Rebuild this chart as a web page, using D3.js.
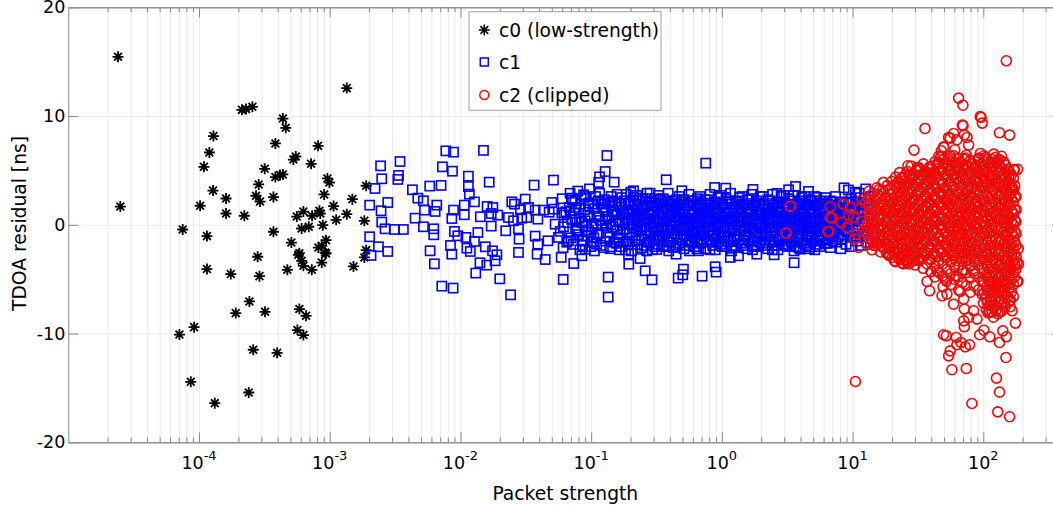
<!DOCTYPE html>
<html>
<head>
<meta charset="utf-8">
<script src="https://cdn.jsdelivr.net/npm/d3@7"></script>
<style>
body { margin: 0; background: #fff; }
svg { display: block; font-family: "DejaVu Sans", sans-serif; }
</style>
</head>
<body>
<div id="chart"></div>
<script>
// tick values
const xTicks = [1e-4, 1e-3, 1e-2, 1e-1, 1, 10, 100];
const xTickExp = ["-4", "-3", "-2", "-1", "0", "1", "2"];
const yTicks = [-20, -10, 0, 10, 20];
const legendLabels = ["c0 (low-strength)", "c1", "c2 (clipped)"];

// c0 : [packet strength, TDOA residual ns]
const c0 = [
  [2.4e-5,15.45],[2.5e-5,1.68],[7.5e-5,-0.43],[1.15e-4,-1.04],[1.02e-4,1.75],[1.09e-4,5.33],[1.2e-4,6.65],[1.29e-4,8.16],
  [1.28e-4,3.15],[1.61e-4,2.42],[1.61e-4,1.04],[2.22e-4,0.83],[2.13e-4,10.57],[2.29e-4,10.64],[2.56e-4,10.85],[4.38e-4,9.77],
  [4.61e-4,8.92],[3.84e-4,7.48],[8.15e-4,7.26],[3.18e-4,5.15],[2.86e-4,3.71],[2.73e-4,2.67],[2.93e-4,2.14],[3.71e-4,2.55],
  [3.84e-4,4.39],[4.17e-4,4.57],[4.38e-4,4.63],[5.27e-4,6.0],[5.5e-4,6.28],[7.2e-4,5.61],[3.71e-4,-0.64],[5.09e-4,-1.63],
  [5.86e-4,-2.61],[2.81e-4,-2.94],[5.6e-4,0.76],[6.29e-4,1.22],[6.1e-4,-0.34],[6.91e-4,-0.18],[7.33e-4,0.83],[8.34e-4,1.29],
  [8.47e-4,1.04],[8.85e-4,-0.03],[9.06e-4,2.79],[9.6e-4,4.26],[9.94e-4,3.89],[1.07e-3,1.72],[1.12e-3,0.46],[1.35e-3,0.98],
  [1.35e-3,12.57],[8.19e-4,-2.09],[8.69e-4,-1.93],[9.37e-4,-1.41],[9.22e-4,-2.55],[5.75e-4,-2.76],[6.1e-4,-3.31],[6.29e-4,-3.77],
  [8.69e-4,-3.47],[9.37e-4,-2.64],[1.15e-4,-4.07],[1.75e-4,-4.53],[2.9e-4,-4.72],[4.74e-4,-4.14],[7.29e-4,-4.14],[2.43e-4,-7.05],
  [1.91e-4,-8.12],[3.2e-4,-8.0],[5.86e-4,-7.75],[6.59e-4,-8.37],[5.66e-4,-9.68],[6.29e-4,-10.14],[7.08e-5,-10.09],[9.17e-5,-9.41],
  [2.6e-4,-11.49],[3.96e-4,-11.77],[8.65e-5,-14.44],[2.4e-4,-15.42],[1.32e-4,-16.4],[1.9e-3,3.59],[1.49e-3,2.36],[1.84e-3,0.37],
  [1.9e-3,-2.33],[1.52e-3,-3.83],[1.84e-3,-3.0]
];

const c1 = [
  // sparse part, 2e-3 .. 0.1
  [7.73e-3,6.80],[8.85e-3,6.68],[1.5e-2,6.84],[2.45e-3,5.42],[3.45e-3,5.82],[7.28e-3,5.33],[8.69e-3,4.93],[2.5e-3,4.23],
  [3.36e-3,4.54],[3.32e-3,4.17],[1.15e-2,4.47],[1.66e-2,3.92],[3.66e-2,3.65],[5.15e-2,4.11],[2.22e-3,3.34],[4.29e-3,3.22],
  [5.82e-3,3.56],[7.11e-3,3.62],[1.15e-2,3.52],[1.17e-2,2.82],[2.02e-3,1.81],[2.78e-3,2.05],[2.47e-3,1.29],[4.72e-3,2.45],
  [5.21e-3,2.21],[5.31e-3,1.35],[6.59e-3,1.81],[6.4e-3,1.23],[8.85e-3,1.35],[8.59e-3,0.58],[1.07e-2,1.81],[1.28e-2,2.11],
  [1.07e-2,0.92],[1.6e-2,1.69],[1.77e-2,1.59],[1.72e-2,1.04],[1.42e-2,0.74],[1.93e-2,0.89],[2.47e-2,2.11],[2.59e-2,1.9],
  [3.13e-2,2.36],[3.32e-2,1.59],[2.88e-2,1.38],[3.73e-2,1.35],[2.33e-2,0.67],[2.55e-2,0.37],[2.94e-2,0.61],[3.22e-2,0.67],
  [3.91e-2,0.52],[4.32e-2,1.35],[5.0e-2,2.05],[5.18e-2,1.44],[4.77e-2,1.16],[5.97e-2,1.10],[7.11e-2,2.45],[8.75e-2,2.76],
  [9.55e-2,1.72],[6.9e-2,1.29],[7.55e-2,0.49],[9.0e-2,0.37],[5.3e-2,0.06],[6.14e-2,-0.18],[7.77e-2,-0.49],[9.55e-2,-0.49],
  [2.5e-3,0.25],[2.65e-3,-0.37],[3.13e-3,-0.43],[3.66e-3,-0.43],[4.5e-3,0.61],[5.21e-3,-0.18],[6.25e-3,-0.37],[6.25e-3,-0.92],
  [9.0e-3,-0.61],[9.55e-3,-1.01],[1.1e-2,-1.16],[1.36e-2,-0.71],[1.72e-2,-0.12],[2.22e-2,-0.55],[2.78e-2,-0.37],[2.81e-2,-1.32],
  [3.73e-2,-1.04],[3.91e-2,-1.78],[4.67e-2,-1.47],[5.62e-2,-1.16],[6.71e-2,-1.47],[8.49e-2,-1.47],[2.02e-3,-1.1],[2.36e-3,-2.02],
  [2.78e-3,-2.45],[2.07e-3,-2.82],[5.86e-3,-2.39],[8.39e-3,-1.9],[8.59e-3,-2.70],[1.12e-2,-2.15],[1.28e-2,-1.53],[1.19e-2,-2.45],
  [1.55e-2,-2.02],[1.76e-2,-2.39],[1.9e-2,-2.76],[1.84e-2,-3.31],[1.59e-2,-3.71],[1.41e-2,-3.49],[6.32e-3,-3.59],[1.31e-2,-4.44],
  [2.78e-2,-2.54],[3.86e-2,-2.70],[4.45e-2,-3.19],[5.9e-2,-3.0],[7.36e-2,-3.56],[8.49e-2,-2.85],[9.0e-2,-2.24],[6.11e-2,-5.03],
  [2.0e-2,-4.97],[2.42e-2,-6.44],[7.2e-3,-5.64],[8.79e-3,-5.82],
  // outliers around the dense band
  [0.132,6.37],[0.753,5.67],[0.128,4.90],[0.116,4.41],[0.114,3.89],[0.15,3.92],[0.375,4.14],[3.66,3.52],
  [4.6,3.07],[3.24,3.22],[0.88,3.43],[1.07,3.37],[1.73,3.25],[5.33,2.51],[0.282,2.91],[0.211,3.13],
  [0.494,3.13],[2.64,2.88],[0.194,-3.62],[0.237,-3.1],[0.259,-4.23],[0.292,-5.06],[0.135,-4.81],[0.135,-6.65],
  [0.508,-4.08],[0.463,-4.90],[0.502,-4.6],[0.706,-4.72],[0.889,-3.86],[0.904,-4.35],[3.57,-3.49],[0.447,-2.70],
  [1.16,-3.0],[1.85,-2.70],[2.51,-2.76],[0.193,-2.70],[0.11,-1.78],[0.14,-2.02],[0.318,-2.27],[0.662,-2.39],
  [1.34,-2.85],[3.97,-2.24],[4.74,-2.02],[8.6,3.4],[9.3,3.2],[10.5,3.0],[12.6,3.3],[11.2,2.9],
  // dense band
  [0.060,2.4],[0.062,0.9],[0.058,-0.6],[0.061,-2.1],[0.068,1.6],[0.066,0.2],[0.070,-1.2],[0.069,2.9],
  [0.074,1.1],[0.076,-0.3],[0.073,-1.8],[0.075,2.2],[0.081,0.6],[0.083,1.9],[0.080,-0.9],[0.082,-2.3],[0.079,3.1],
  [0.089,1.4],[0.091,-0.1],[0.087,-1.5],[0.090,2.6],[0.098,0.8],[0.100,-0.7],[0.096,2.0],[0.099,-2.0],[0.097,3.3],
  [0.107,1.5],[0.109,0.1],[0.105,-1.2],[0.108,2.6],[0.106,-2.4],[0.117,0.4],[0.119,1.9],[0.115,-0.8],[0.118,-1.9],[0.116,2.9],
  [0.129,1.2],[0.131,-0.3],[0.127,2.3],[0.130,-1.5],[0.128,0.5],[0.141,0.0],[0.143,1.7],[0.139,-1.1],[0.142,2.6],[0.140,-2.2],[0.144,0.9],
  [0.155,1.0],[0.157,-0.5],[0.153,2.1],[0.156,-1.7],[0.154,0.3],[0.158,2.8],[0.170,1.6],[0.172,0.2],[0.168,-0.9],[0.171,2.5],[0.169,-2.0],[0.173,0.9],
  [0.186,0.6],[0.188,-0.4],[0.184,1.9],[0.187,-1.5],[0.185,2.8],[0.189,1.2],[0.183,-2.3],
  [0.204,1.3],[0.206,-0.1],[0.202,2.2],[0.205,-1.2],[0.203,-2.4],[0.207,0.5],[0.201,3.0],
  [0.224,0.8],[0.226,1.9],[0.222,-0.6],[0.225,-1.8],[0.223,2.7],[0.227,0.1],[0.221,1.4],
  [0.245,1.5],[0.247,0.3],[0.243,-1.0],[0.246,2.4],[0.244,-2.1],[0.248,0.9],[0.242,-0.4],
  [0.269,0.5],[0.271,1.8],[0.267,-0.5],[0.270,-1.6],[0.268,2.9],[0.272,1.1],[0.266,-2.4],
  [0.295,1.2],[0.297,-0.2],[0.293,2.2],[0.296,-1.3],[0.294,-2.3],[0.298,0.6],[0.292,1.7],
  [0.324,0.9],[0.326,2.0],[0.322,-0.6],[0.325,-1.8],[0.323,0.2],[0.327,2.7],[0.321,-1.2],
  [0.355,1.6],[0.357,0.4],[0.353,-1.0],[0.356,2.4],[0.354,-2.0],[0.358,1.0],[0.352,-0.3],
  [0.389,0.7],[0.391,1.9],[0.387,-0.4],[0.390,-1.5],[0.388,2.9],[0.392,-2.4],[0.386,1.3],
  [0.427,1.3],[0.429,0.0],[0.425,2.2],[0.428,-1.1],[0.426,-2.1],[0.430,0.7],[0.424,-0.5],
  [0.468,0.9],[0.470,1.9],[0.466,-0.5],[0.469,-1.7],[0.467,0.3],[0.471,2.6],[0.465,1.4],
  [0.513,1.5],[0.515,0.2],[0.511,-0.9],[0.514,2.3],[0.512,-2.2],[0.516,1.0],[0.510,-0.3],
  [0.562,0.6],[0.564,1.8],[0.560,-0.4],[0.563,-1.5],[0.561,2.8],[0.565,-2.4],[0.559,1.2],
  [0.617,1.2],[0.619,0.0],[0.615,2.2],[0.618,-1.2],[0.616,-2.0],[0.620,0.6],[0.614,-0.6],
  [0.676,0.8],[0.678,1.9],[0.674,-0.6],[0.677,-1.7],[0.675,0.2],[0.679,2.6],[0.673,1.4],
  [0.741,1.5],[0.743,0.4],[0.739,-1.0],[0.742,2.3],[0.740,-2.2],[0.744,1.0],[0.738,-0.3],
  [0.813,0.5],[0.815,1.8],[0.811,-0.5],[0.814,-1.6],[0.812,2.8],[0.816,1.2],[0.810,-2.3],
  [0.891,1.1],[0.893,-0.1],[0.889,2.1],[0.892,-1.3],[0.890,-2.3],[0.894,0.6],[0.888,1.6],
  [0.977,0.8],[0.979,2.0],[0.975,-0.6],[0.978,-1.8],[0.976,0.2],[0.980,2.7],[0.974,-1.2],
  [1.07,1.6],[1.08,0.4],[1.06,-1.0],[1.075,2.4],[1.065,-2.0],[1.085,1.0],[1.055,-0.3],
  [1.17,0.6],[1.18,1.9],[1.16,-0.4],[1.175,-1.5],[1.165,2.9],[1.185,-2.4],[1.155,1.3],
  [1.29,1.3],[1.30,0.0],[1.28,2.2],[1.295,-1.1],[1.285,-2.1],[1.305,0.7],[1.275,-0.5],
  [1.41,0.9],[1.42,1.9],[1.40,-0.5],[1.415,-1.7],[1.405,0.3],[1.425,2.6],[1.395,1.4],
  [1.55,1.5],[1.56,0.2],[1.54,-0.9],[1.555,2.3],[1.545,-2.2],[1.565,1.0],[1.535,-0.3],
  [1.70,0.6],[1.71,1.8],[1.69,-0.4],[1.705,-1.5],[1.695,2.8],[1.715,-2.3],[1.685,1.2],
  [1.86,1.2],[1.87,0.0],[1.85,2.2],[1.865,-1.2],[1.855,-2.0],[1.875,0.6],[1.845,-0.6],
  [2.04,0.8],[2.05,1.9],[2.03,-0.6],[2.045,-1.7],[2.035,0.2],[2.055,2.6],[2.025,1.4],
  [2.24,1.5],[2.25,0.4],[2.23,-1.0],[2.245,2.3],[2.235,-2.2],[2.255,1.0],[2.225,-0.3],
  [2.45,0.5],[2.46,1.8],[2.44,-0.5],[2.455,-1.6],[2.445,2.8],[2.465,1.2],[2.435,-2.3],
  [2.69,1.1],[2.70,-0.1],[2.68,2.1],[2.695,-1.3],[2.685,-2.3],[2.705,0.6],[2.675,1.6],
  [2.95,0.8],[2.96,2.0],[2.94,-0.6],[2.955,-1.8],[2.945,0.2],[2.965,2.7],[2.935,-1.2],
  [3.24,1.6],[3.25,0.4],[3.23,-1.0],[3.245,2.4],[3.235,-2.0],[3.255,1.0],[3.225,-0.3],
  [3.55,0.6],[3.56,1.9],[3.54,-0.4],[3.555,-1.5],[3.545,2.7],[3.565,-2.4],[3.535,1.3],
  [3.89,1.3],[3.90,0.0],[3.88,2.2],[3.895,-1.1],[3.885,-2.1],[3.905,0.7],[3.875,-0.5],
  [4.27,0.9],[4.28,1.9],[4.26,-0.5],[4.275,-1.7],[4.265,0.3],[4.285,2.6],[4.255,1.4],
  [4.68,1.5],[4.69,0.2],[4.67,-0.9],[4.685,2.3],[4.675,-2.2],[4.695,1.0],[4.665,-0.3],
  [5.13,0.6],[5.14,1.8],[5.12,-0.4],[5.135,-1.5],[5.125,2.6],[5.145,-2.3],[5.115,1.2],
  [5.62,1.2],[5.63,0.0],[5.61,2.2],[5.625,-1.2],[5.615,-2.0],[5.635,0.6],[5.605,-0.6],
  [6.17,0.8],[6.18,1.9],[6.16,-0.6],[6.175,-1.7],[6.165,0.2],[6.185,2.5],[6.155,1.4],
  [6.76,1.5],[6.77,0.4],[6.75,-1.0],[6.765,2.2],[6.755,-2.1],[6.745,-0.3],
  [7.41,0.5],[7.42,1.8],[7.40,-0.5],[7.415,-1.6],[7.405,2.6],[7.395,1.1],
  [8.13,1.1],[8.14,-0.1],[8.12,2.1],[8.135,-1.3],[8.125,-2.2],[8.115,0.5],
  [8.91,0.8],[8.92,2.0],[8.90,-0.6],[8.915,-1.8],[8.905,0.2],[8.895,1.4],
  [9.77,1.6],[9.78,0.4],[9.76,-1.0],[9.775,2.4],[9.765,-2.0],
  [10.7,0.6],[10.8,1.9],[10.6,-0.4],[10.75,-1.5],[10.65,2.5],
  [11.7,1.3],[11.8,0.0],[11.6,2.0],[11.75,-1.1],[11.65,-1.9],
  [12.9,0.9],[13.0,1.9],[12.8,-0.5],[12.95,-1.6],[14.0,1.4],[14.3,-0.8],[13.8,2.6],
  // dense band, in-between layer
  [0.064,1.2],[0.065,-1.6],[0.071,0.5],[0.072,2.3],[0.078,-0.6],[0.077,1.6],[0.085,0.2],[0.086,-1.9],[0.084,2.4],
  [0.094,0.9],[0.093,-1.0],[0.103,1.9],[0.102,-0.2],[0.104,-1.6],[0.112,0.8],[0.113,2.2],[0.111,-0.9],
  [0.123,1.6],[0.122,-0.1],[0.124,-2.1],[0.135,0.7],[0.136,2.0],[0.134,-0.7],[0.148,1.3],[0.147,-0.2],[0.149,-1.6],[0.146,2.2],
  [0.162,0.4],[0.163,1.9],[0.161,-1.2],[0.164,-2.3],[0.178,1.1],[0.177,-0.4],[0.179,2.2],[0.176,-1.6],
  [0.195,2.0],[0.196,1.0],[0.194,0.1],[0.197,-0.8],[0.193,-1.8],[0.214,1.8],[0.215,0.7],[0.213,-0.3],[0.216,-1.5],[0.212,2.5],
  [0.234,2.2],[0.235,1.1],[0.233,0.4],[0.236,-0.5],[0.232,-1.4],[0.257,1.6],[0.258,0.6],[0.256,-0.2],[0.259,-1.0],[0.255,-1.9],[0.260,2.4],
  [0.282,2.0],[0.283,1.0],[0.281,0.1],[0.284,-0.8],[0.280,-1.6],[0.309,1.8],[0.310,0.6],[0.308,-0.2],[0.311,-1.1],[0.307,-2.0],[0.312,2.4],
  [0.339,2.3],[0.340,1.3],[0.338,0.4],[0.341,-0.5],[0.337,-1.4],[0.372,1.5],[0.373,0.3],[0.371,-0.8],[0.374,-1.9],[0.370,2.2],
  [0.408,1.9],[0.409,0.9],[0.407,0.1],[0.410,-0.8],[0.406,-1.6],[0.447,1.7],[0.448,0.7],[0.446,-0.2],[0.449,-1.1],[0.445,-2.0],[0.450,2.3],
  [0.490,2.1],[0.491,1.2],[0.489,0.4],[0.492,-0.5],[0.488,-1.4],[0.537,1.8],[0.538,0.6],[0.536,-0.1],[0.539,-1.0],[0.535,-1.9],
  [0.589,2.2],[0.590,1.0],[0.588,0.1],[0.591,-0.8],[0.587,-1.6],[0.646,1.7],[0.647,0.5],[0.645,-0.3],[0.648,-1.3],[0.644,-2.2],[0.649,2.4],
  [0.708,2.0],[0.709,1.1],[0.707,0.2],[0.710,-0.7],[0.706,-1.5],[0.776,2.3],[0.777,1.3],[0.775,0.4],[0.778,-0.5],[0.774,-1.4],
  [0.851,1.6],[0.852,0.5],[0.850,-0.2],[0.853,-1.0],[0.849,-1.9],[0.933,2.0],[0.934,1.0],[0.932,0.1],[0.935,-0.8],[0.931,-1.6],[0.936,2.5],
  [1.02,1.8],[1.025,0.7],[1.015,-0.2],[1.03,-1.1],[1.01,-2.0],[1.12,2.2],[1.125,1.1],[1.115,0.3],[1.13,-0.6],[1.11,-1.5],
  [1.23,1.6],[1.235,0.6],[1.225,-0.2],[1.24,-1.1],[1.22,-1.9],[1.35,2.1],[1.355,1.2],[1.345,0.4],[1.36,-0.5],[1.34,-1.4],[1.365,2.5],
  [1.48,1.8],[1.485,0.7],[1.475,-0.2],[1.49,-1.0],[1.47,-1.9],[1.62,2.3],[1.625,1.2],[1.615,0.3],[1.63,-0.6],[1.61,-1.5],
  [1.78,1.7],[1.785,0.6],[1.775,-0.3],[1.79,-1.1],[1.77,-2.0],[1.95,2.0],[1.955,1.0],[1.945,0.1],[1.96,-0.8],[1.94,-1.6],[1.965,2.6],
  [2.14,1.8],[2.145,0.8],[2.135,-0.2],[2.15,-1.0],[2.13,-1.9],[2.34,2.2],[2.345,1.1],[2.335,0.2],[2.35,-0.7],[2.33,-1.5],
  [2.57,1.6],[2.575,0.5],[2.565,-0.2],[2.58,-1.1],[2.56,-1.9],[2.82,2.1],[2.825,1.2],[2.815,0.4],[2.83,-0.5],[2.81,-1.4],[2.835,2.6],
  [3.09,1.9],[3.095,0.8],[3.085,-0.1],[3.10,-1.0],[3.08,-1.9],[3.39,2.2],[3.395,1.1],[3.385,0.2],[3.40,-0.7],[3.38,-1.6],
  [3.72,1.7],[3.725,0.6],[3.715,-0.2],[3.73,-1.1],[3.71,-2.0],[4.07,2.0],[4.075,1.0],[4.065,0.1],[4.08,-0.8],[4.06,-1.6],[4.085,2.5],
  [4.47,1.8],[4.475,0.7],[4.465,-0.2],[4.48,-1.1],[4.46,-1.9],[4.90,2.2],[4.905,1.2],[4.895,0.3],[4.91,-0.6],[4.89,-1.5],
  [5.37,1.6],[5.375,0.5],[5.365,-0.3],[5.38,-1.0],[5.36,-1.8],[5.89,2.0],[5.895,1.1],[5.885,0.3],[5.90,-0.6],[5.88,-1.4],
  [6.46,1.9],[6.465,0.8],[6.455,-0.1],[6.47,-0.9],[6.45,-1.7],[7.08,2.1],[7.085,1.1],[7.075,0.2],[7.09,-0.7],[7.07,-1.5],
  [7.76,1.6],[7.765,0.6],[7.755,-0.3],[7.77,-1.1],[8.51,1.9],[8.515,0.9],[8.505,0.0],[8.52,-0.9],
  [9.33,2.1],[9.335,1.1],[9.325,0.2],[9.34,-0.7],[10.2,1.4],[10.25,0.3],[10.15,-0.8],[11.2,1.8],[11.25,0.6],[11.15,-0.5],
  [12.3,1.4],[12.35,0.3],[12.25,-1.0]
];

const c2 = [
  // scattered points
  [150,15.08],[64.7,11.65],[69.8,11.0],[94.8,9.96],[98.2,9.35],[35.8,8.86],[133,8.46],[159,8.25],
  [69.1,9.17],[59.3,8.4],[55.8,7.97],[62.8,7.82],[71.6,8.28],[75,8.03],[77.2,7.33],[49.7,7.17],
  [47.7,6.81],[29.5,6.87],[59.3,6.35],[72.8,6.13],[94.8,6.56],[101,6.35],[92,6.13],[45.5,5.73],
  [52.7,5.43],[26.5,5.43],[32,5.27],[62.8,5.12],[126,5.73],[133,5.33],[173,5.09],[157,4.51],
  [92,4.78],[101,5.27],[38.2,4.72],[41.7,4.81],[113,4.35],[159,3.44],[143,3.74],[16,3.25],
  [24.5,4.35],[27.6,4.66],[49.8,7.11],[54.3,8.03],[70,9.11],[96.2,9.87],[127,5.73],[171,5.03],
  [166,3.44],[39.4,4.72],[45.6,5.58],[31.6,5.27],[20.6,2.06],
  [10.5,-14.41],[6.55,-0.61],[6.75,0.67],[6.75,1.66],[81.8,-16.43],[133,-15.39],[126,-14.10],[129,-17.2],
  [159,-17.65],[57.5,-13.33],[74.1,-13.21],[149,-12.2],[54.3,-12.05],[55.8,-11.59],[62.8,-11.03],[72.8,-11.22],
  [78.5,-11.03],[67.5,-10.82],[49.7,-10.11],[52.1,-10.21],[62.1,-10.36],[93.8,-10.11],[101,-9.69],[112,-10.3],
  [133,-10.82],[150,-10.3],[141,-9.75],[71.6,-9.38],[70.8,-8.83],[77.2,-8.52],[89.5,-8.67],[84.4,-7.91],
  [71.6,-7.75],[112,-8.06],[139,-7.91],[166,-7.91],[176,-9.04],[161,-7.54],[37.1,-5.21],[38.8,-6.07],
  [48.3,-6.53],[52.7,-6.37],[59.3,-7.3],[66.7,-6.13],[70.8,-6.84],[113,-6.99],[124,-6.22],[141,-6.07],
  [161,-6.93],[181,-5.21],[113,-5.3],[129,-5.39],[143,-5.15],[19.2,-2.7],[26.1,-3.46],[27.6,-2.08],
  [33,-3.16],[44.2,-4.23],[51.2,-5.0],[62.1,-4.69],[68.7,-4.23],[84.4,-4.23],[181,-3.46],[161,-3.92],
  [11.1,-2.08],[15.3,-1.62],[18.9,-2.08],
  [3.33,1.69],[3.09,-0.76],[6.95,0.62],[6.49,-0.61],[8.43,1.9],[8.15,0.22],[9.06,-0.24],[11.8,2.3],
  [9.6,1.6],[10.2,0.68],[10.8,-0.86],[12.9,-0.24],[14.1,-1.47],[15.4,-1.78],[13.7,0.98],[9.3,0.9],
  [10.4,-1.3],[11.4,1.5],[12.2,-0.6],[11.9,0.3],[12.5,2.0],
  // dense core
  [13.2,2.4],[13.3,1.1],[13.1,0.2],[13.25,-0.9],[13.15,-1.8],[13.4,3.1],
  [14.1,1.7],[14.2,0.6],[14.0,-0.4],[14.15,-1.4],[14.05,-2.3],[14.3,2.9],
  [15.1,2.2],[15.2,1.2],[15.0,0.1],[15.15,-0.8],[15.05,-1.9],[15.3,3.4],
  [16.2,2.6],[16.3,1.5],[16.1,0.5],[16.25,-0.5],[16.15,-1.5],[16.4,-2.5],
  [17.4,3.0],[17.5,1.9],[17.3,0.9],[17.45,-0.2],[17.35,-1.2],[17.6,-2.2],[17.2,3.9],
  [18.6,2.3],[18.7,1.3],[18.5,0.3],[18.65,-0.7],[18.55,-1.8],[18.8,-2.8],[18.4,3.6],
  [20.0,4.0],[20.2,2.9],[19.8,1.9],[20.1,0.9],[19.9,-0.1],[20.3,-1.1],[19.7,-2.1],[20.15,-3.0],
  [21.4,4.4],[21.6,3.4],[21.2,2.4],[21.5,1.4],[21.3,0.4],[21.7,-0.6],[21.1,-1.6],[21.55,-2.6],[21.35,-3.4],
  [22.9,3.8],[23.1,2.7],[22.7,1.7],[23.0,0.7],[22.8,-0.3],[23.2,-1.3],[22.6,-2.3],[23.05,-3.2],[22.85,4.8],
  [24.5,4.3],[24.7,3.2],[24.3,2.2],[24.6,1.2],[24.4,0.2],[24.8,-0.8],[24.2,-1.8],[24.65,-2.9],[24.45,-3.6],
  [26.3,4.9],[26.5,3.7],[26.1,2.6],[26.4,1.6],[26.2,0.6],[26.6,-0.5],[26.0,-1.5],[26.45,-2.5],[26.25,-3.4],
  [28.2,4.1],[28.4,3.0],[28.0,2.0],[28.3,1.0],[28.1,0.0],[28.5,-1.0],[27.9,-2.0],[28.35,-3.0],[28.15,5.4],
  [30.2,4.6],[30.4,3.5],[30.0,2.4],[30.3,1.4],[30.1,0.4],[30.5,-0.6],[29.9,-1.6],[30.35,-2.7],[30.15,-3.7],
  [32.4,5.1],[32.6,4.0],[32.2,2.9],[32.5,1.8],[32.3,0.8],[32.7,-0.2],[32.1,-1.2],[32.55,-2.2],[32.35,-3.3],
  [34.7,4.4],[34.9,3.3],[34.5,2.2],[34.8,1.2],[34.6,0.2],[35.0,-0.8],[34.4,-1.9],[34.85,-3.0],[34.65,-4.0],[34.75,5.6],
  [37.2,4.8],[37.4,3.7],[37.0,2.6],[37.3,1.6],[37.1,0.6],[37.5,-0.4],[36.9,-1.5],[37.35,-2.6],[37.15,-3.6],
  [39.8,5.3],[40.0,4.2],[39.6,3.1],[39.9,2.0],[39.7,1.0],[40.1,0.0],[39.5,-1.0],[39.95,-2.1],[39.75,-3.2],[39.85,-4.3],
  [42.7,5.8],[42.9,4.7],[42.5,3.6],[42.8,2.5],[42.6,1.5],[43.0,0.5],[42.4,-0.5],[42.85,-1.6],[42.65,-2.7],[42.75,-3.8],[42.55,-4.8],
  [45.7,5.2],[45.9,4.1],[45.5,3.0],[45.8,2.0],[45.6,1.0],[46.0,0.0],[45.4,-1.1],[45.85,-2.2],[45.65,-3.3],[45.75,-4.4],[45.55,6.3],
  [49.0,6.0],[49.2,4.9],[48.8,3.8],[49.1,2.8],[48.9,1.8],[49.3,0.7],[48.7,-0.3],[49.15,-1.4],[48.95,-2.5],[49.05,-3.6],[48.85,-4.7],[49.25,-5.7],
  [52.5,5.5],[52.7,4.4],[52.3,3.3],[52.6,2.3],[52.4,1.2],[52.8,0.2],[52.2,-0.8],[52.65,-1.9],[52.45,-3.0],[52.55,-4.1],[52.35,-5.2],
  [56.2,6.3],[56.4,5.1],[56.0,4.0],[56.3,2.9],[56.1,1.9],[56.5,0.9],[55.9,-0.1],[56.35,-1.2],[56.15,-2.3],[56.25,-3.4],[56.05,-4.5],[56.45,-5.5],
  [60.3,5.7],[60.5,4.6],[60.1,3.5],[60.4,2.4],[60.2,1.4],[60.6,0.4],[60.0,-0.6],[60.45,-1.7],[60.25,-2.8],[60.35,-3.9],[60.15,-5.0],[60.55,6.9],
  [64.6,6.1],[64.8,5.0],[64.4,3.9],[64.7,2.8],[64.5,1.7],[64.9,0.7],[64.3,-0.4],[64.75,-1.5],[64.55,-2.6],[64.65,-3.7],[64.45,-4.8],[64.85,-6.0],
  [69.2,5.4],[69.4,4.3],[69.0,3.2],[69.3,2.2],[69.1,1.1],[69.5,0.1],[68.9,-0.9],[69.35,-2.0],[69.15,-3.1],[69.25,-4.2],[69.05,-5.3],
  [74.1,6.4],[74.3,5.3],[73.9,4.2],[74.2,3.1],[74.0,2.0],[74.4,1.0],[73.8,0.0],[74.25,-1.1],[74.05,-2.2],[74.15,-3.3],[73.95,-4.4],[74.35,-5.6],
  [79.4,5.9],[79.6,4.8],[79.2,3.7],[79.5,2.6],[79.3,1.5],[79.7,0.5],[79.1,-0.5],[79.55,-1.6],[79.35,-2.7],[79.45,-3.8],[79.25,-4.9],[79.65,-6.2],
  [85.1,5.2],[85.3,4.1],[84.9,3.0],[85.2,1.9],[85.0,0.9],[85.4,-0.1],[84.8,-1.2],[85.25,-2.3],[85.05,-3.4],[85.15,-4.5],[84.95,-5.6],
  [91.2,6.0],[91.4,4.9],[91.0,3.8],[91.3,2.7],[91.1,1.6],[91.5,0.6],[90.9,-0.4],[91.35,-1.5],[91.15,-2.6],[91.25,-3.7],[91.05,-4.8],[91.45,-6.0],
  [97.7,5.6],[97.9,4.5],[97.5,3.4],[97.8,2.3],[97.6,1.3],[98.0,0.3],[97.4,-0.7],[97.85,-1.8],[97.65,-2.9],[97.75,-4.0],[97.55,-5.2],[97.95,-6.4],
  [105,6.2],[105.5,5.1],[104.5,4.0],[105.2,2.9],[104.8,1.8],[105.7,0.8],[104.3,-0.2],[105.3,-1.3],[104.7,-2.4],[105.1,-3.5],[104.9,-4.6],[105.4,-5.7],[104.6,-6.8],[105.6,-7.8],
  [112,5.6],[112.5,4.5],[111.5,3.4],[112.2,2.4],[111.8,1.3],[112.7,0.3],[111.3,-0.8],[112.3,-1.9],[111.7,-3.0],[112.1,-4.1],[111.9,-5.2],[112.4,-6.3],[111.6,-7.4],
  [120,6.5],[120.5,5.4],[119.5,4.3],[120.2,3.2],[119.8,2.1],[120.7,1.1],[119.3,0.0],[120.3,-1.0],[119.7,-2.1],[120.1,-3.2],[119.9,-4.3],[120.4,-5.4],[119.6,-6.5],[120.6,-7.6],[119.4,-8.5],
  [129,5.9],[129.5,4.8],[128.5,3.7],[129.2,2.6],[128.8,1.6],[129.7,0.5],[128.3,-0.5],[129.3,-1.6],[128.7,-2.7],[129.1,-3.8],[128.9,-4.9],[129.4,-6.0],[128.6,-7.1],[129.6,-8.2],
  [138,6.3],[138.5,5.2],[137.5,4.1],[138.2,3.0],[137.8,1.9],[138.7,0.9],[137.3,-0.2],[138.3,-1.3],[137.7,-2.4],[138.1,-3.5],[137.9,-4.6],[138.4,-5.7],[137.6,-6.8],[138.6,-7.9],
  [148,5.5],[148.5,4.4],[147.5,3.3],[148.2,2.2],[147.8,1.2],[148.7,0.2],[147.3,-0.9],[148.3,-2.0],[147.7,-3.1],[148.1,-4.2],[147.9,-5.3],[148.4,-6.4],[147.6,-7.5],
  [158,4.9],[158.5,3.8],[157.5,2.7],[158.2,1.7],[157.8,0.6],[158.7,-0.4],[157.3,-1.5],[158.3,-2.6],[157.7,-3.7],[158.1,-4.8],[157.9,-5.9],[158.4,-7.0],
  [170,4.3],[170.5,3.2],[169.5,2.1],[170.2,1.0],[169.8,0.0],[170.7,-1.1],[169.3,-2.2],[170.3,-3.3],[169.7,-4.4],[170.1,-5.5],[169.9,-6.6],
  [178,2.6],[178.5,1.4],[177.5,0.3],[178.2,-0.8],[177.8,-1.9],[178.7,-3.0],[177.3,-4.1],
  [185,-2.2],[186,-3.6],[184,-5.2],[183,5.1],
  // dense core, in-between layer
  [13.6,2.0],[13.65,0.7],[13.55,-0.3],[13.7,-1.3],[14.6,2.3],[14.65,1.2],[14.55,0.1],[14.7,-0.9],[14.5,-1.9],
  [15.6,1.7],[15.65,0.7],[15.55,-0.4],[15.7,-1.4],[15.5,2.8],[16.8,2.1],[16.85,1.0],[16.75,0.0],[16.9,-1.0],[16.7,-2.0],[16.95,3.2],
  [18.0,2.5],[18.05,1.4],[17.95,0.4],[18.1,-0.7],[17.9,-1.7],[18.15,-2.6],[19.3,3.3],[19.35,2.2],[19.25,1.1],[19.4,0.0],[19.2,-1.0],[19.45,-2.0],[19.15,-2.8],
  [20.7,3.6],[20.75,2.5],[20.65,1.4],[20.8,0.4],[20.6,-0.6],[20.85,-1.6],[20.55,-2.5],[20.9,-3.3],
  [22.1,3.9],[22.15,2.9],[22.05,1.9],[22.2,0.9],[22.0,-0.1],[22.25,-1.1],[21.95,-2.1],[22.3,-3.0],
  [23.7,3.4],[23.75,2.3],[23.65,1.2],[23.8,0.2],[23.6,-0.8],[23.85,-1.8],[23.55,-2.7],[23.9,-3.5],[23.5,4.3],
  [25.4,3.7],[25.45,2.7],[25.35,1.7],[25.5,0.7],[25.3,-0.3],[25.55,-1.3],[25.25,-2.3],[25.6,-3.2],[25.2,4.6],
  [27.2,4.5],[27.25,3.4],[27.15,2.3],[27.3,1.3],[27.1,0.3],[27.35,-0.7],[27.05,-1.7],[27.4,-2.7],[27.0,-3.6],
  [29.2,3.6],[29.25,2.5],[29.15,1.5],[29.3,0.5],[29.1,-0.5],[29.35,-1.5],[29.05,-2.4],[29.4,-3.3],[29.0,4.6],
  [31.3,4.1],[31.35,3.0],[31.25,1.9],[31.4,0.9],[31.2,-0.1],[31.45,-1.1],[31.15,-2.1],[31.5,-3.2],[31.1,5.0],
  [33.5,4.6],[33.55,3.5],[33.45,2.4],[33.6,1.4],[33.4,0.4],[33.65,-0.6],[33.35,-1.6],[33.7,-2.6],
  [35.9,3.8],[35.95,2.7],[35.85,1.7],[36.0,0.7],[35.8,-0.3],[36.05,-1.3],[35.75,-2.4],[35.7,4.9],
  [38.5,4.3],[38.55,3.2],[38.45,2.1],[38.6,1.1],[38.4,0.1],[38.65,-0.9],[38.35,-2.0],[38.7,-3.1],[38.75,5.3],
  [41.2,4.8],[41.25,3.7],[41.15,2.6],[41.3,1.5],[41.1,0.5],[41.35,-0.5],[41.05,-1.5],[41.4,-2.6],
  [44.2,5.6],[44.25,4.4],[44.15,3.3],[44.3,2.3],[44.1,1.3],[44.35,0.3],[44.05,-0.7],[44.4,-1.8],[44.0,-2.9],
  [47.3,5.0],[47.35,3.9],[47.25,2.8],[47.4,1.7],[47.2,0.7],[47.45,-0.4],[47.15,-1.5],[47.5,-2.6],[47.05,6.2],
  [50.7,5.6],[50.75,4.5],[50.65,3.4],[50.8,2.3],[50.6,1.3],[50.85,0.3],[50.55,-0.8],[50.9,-1.9],[50.5,-3.0],
  [54.3,5.0],[54.35,3.9],[54.25,2.8],[54.4,1.8],[54.2,0.7],[54.45,-0.3],[54.15,-1.4],[54.5,-2.5],[54.05,6.0],
  [58.2,5.8],[58.25,4.6],[58.15,3.5],[58.3,2.4],[58.1,1.4],[58.35,0.4],[58.05,-0.6],[58.4,-1.7],[58.0,-2.8],
  [62.4,5.3],[62.45,4.2],[62.35,3.0],[62.5,1.9],[62.3,0.9],[62.55,-0.1],[62.25,-1.1],[62.6,-2.2],[62.2,-3.3],
  [66.9,5.7],[66.95,4.5],[66.85,3.4],[67.0,2.3],[66.8,1.2],[67.05,0.2],[66.75,-0.9],[67.1,-2.0],[66.7,-3.1],
  [71.6,5.0],[71.65,3.8],[71.55,2.7],[71.7,1.6],[71.5,0.6],[71.75,-0.4],[71.45,-1.5],[71.8,-2.6],[71.35,6.0],
  [76.7,5.4],[76.75,4.3],[76.65,3.2],[76.8,2.1],[76.6,1.0],[76.85,0.0],[76.55,-1.0],[76.9,-2.1],[76.5,-3.2],
  [82.2,5.6],[82.25,4.5],[82.15,3.4],[82.3,2.4],[82.1,1.4],[82.35,0.4],[82.05,-0.7],[82.4,-1.7],[82.0,-2.8],
  [88.1,5.5],[88.15,4.4],[88.05,3.3],[88.2,2.2],[88.0,1.2],[88.25,0.2],[87.95,-0.8],[88.3,-1.9],[87.9,-3.0],
  [94.4,5.3],[94.45,4.2],[94.35,3.1],[94.5,2.0],[94.3,1.0],[94.55,0.0],[94.25,-1.1],[94.6,-2.2],[94.2,-3.3],
  [101,5.8],[101.3,4.6],[100.7,3.5],[101.2,2.4],[100.8,1.3],[101.4,0.3],[100.6,-0.8],[101.5,-1.9],[100.5,-3.0],[101.1,-4.1],[100.9,-5.2],[101.6,-6.3],[100.4,-7.2],
  [108,6.0],[108.3,4.8],[107.7,3.7],[108.2,2.6],[107.8,1.5],[108.4,0.5],[107.6,-0.6],[108.5,-1.7],[107.5,-2.8],[108.1,-3.9],[107.9,-5.0],[108.6,-6.1],[107.4,-7.1],[108.7,-8.1],
  [116,6.0],[116.3,4.9],[115.7,3.8],[116.2,2.7],[115.8,1.6],[116.4,0.6],[115.6,-0.5],[116.5,-1.5],[115.5,-2.6],[116.1,-3.7],[115.9,-4.8],[116.6,-5.9],[115.4,-7.0],[116.7,-8.0],
  [124,6.2],[124.3,5.0],[123.7,3.9],[124.2,2.8],[123.8,1.7],[124.4,0.7],[123.6,-0.3],[124.5,-1.4],[123.5,-2.5],[124.1,-3.6],[123.9,-4.7],[124.6,-5.8],[123.4,-6.9],[124.7,-7.9],
  [133,6.0],[133.3,4.9],[132.7,3.8],[133.2,2.7],[132.8,1.6],[133.4,0.6],[132.6,-0.4],[133.5,-1.5],[132.5,-2.6],[133.1,-3.7],[132.9,-4.8],[133.6,-5.9],[132.4,-7.0],[133.7,-8.0],
  [143,5.8],[143.3,4.7],[142.7,3.6],[143.2,2.5],[142.8,1.5],[143.4,0.5],[142.6,-0.6],[143.5,-1.7],[142.5,-2.8],[143.1,-3.9],[142.9,-5.0],[143.6,-6.1],[142.4,-7.2],
  [153,5.1],[153.3,4.0],[152.7,2.9],[153.2,1.9],[152.8,0.9],[153.4,-0.1],[152.6,-1.1],[153.5,-2.2],[152.5,-3.3],[153.1,-4.4],[152.9,-5.5],[153.6,-6.6],
  [164,4.6],[164.3,3.5],[163.7,2.4],[164.2,1.3],[163.8,0.3],[164.4,-0.7],[163.6,-1.8],[164.5,-2.9],[163.5,-4.0],[164.1,-5.1],[163.9,-6.2],
  [174,3.6],[174.3,2.5],[173.7,1.4],[174.2,0.4],[173.8,-0.6],[174.4,-1.6],[173.6,-2.7],[174.5,-3.7],[173.5,-4.8]
];

const W = 1053, H = 508;
const plot = { left: 68.3, right: 1062, top: 7.3, bottom: 442.3 };
const axisColor = "#8a8a8a";
const gridColor = "#ebebeb";
const labelFont = 18.7, tickFont = 17.5;

const svg = d3.select("#chart").append("svg")
  .attr("width", W).attr("height", H);
svg.append("rect").attr("width", W).attr("height", H).attr("fill", "#fff");

const x = d3.scaleLog().domain([1e-5, 400]).range([plot.left, plot.right]);
const y = d3.scaleLinear().domain([-20, 20]).range([plot.bottom, plot.top]);

// minor tick positions 2..9 x 10^k
const minorTicks = [];
for (let k = -5; k <= 2; k++) {
  for (let m = 2; m <= 9; m++) {
    const v = m * Math.pow(10, k);
    if (v < 400) minorTicks.push(v);
  }
}

const plotH = plot.bottom - plot.top;
const plotW = plot.right - plot.left;

// grid
const grid = svg.append("g");
grid.append("g")
  .attr("transform", `translate(0,${plot.bottom})`)
  .call(d3.axisBottom(x).tickValues(xTicks.concat(minorTicks)).tickSize(-plotH).tickFormat(""))
  .call(g => g.select(".domain").remove())
  .call(g => g.selectAll("line").attr("stroke", gridColor));
grid.append("g")
  .attr("transform", `translate(${plot.left},0)`)
  .call(d3.axisLeft(y).tickValues([-10, 0, 10]).tickSize(-plotW).tickFormat(""))
  .call(g => g.select(".domain").remove())
  .call(g => g.selectAll("line").attr("stroke", gridColor));

// axes
function styleAxis(g) {
  g.select(".domain").attr("stroke", axisColor);
  g.selectAll(".tick line").attr("stroke", axisColor);
}
svg.append("g").attr("transform", `translate(0,${plot.bottom})`)
  .call(d3.axisBottom(x).tickValues(xTicks).tickSize(-10).tickSizeOuter(0).tickFormat(""))
  .call(styleAxis);
svg.append("g").attr("transform", `translate(0,${plot.bottom})`)
  .call(d3.axisBottom(x).tickValues(minorTicks).tickSize(-5).tickSizeOuter(0).tickFormat(""))
  .call(styleAxis);
svg.append("g").attr("transform", `translate(0,${plot.top})`)
  .call(d3.axisTop(x).tickValues(xTicks).tickSize(-10).tickSizeOuter(0).tickFormat(""))
  .call(styleAxis);
svg.append("g").attr("transform", `translate(0,${plot.top})`)
  .call(d3.axisTop(x).tickValues(minorTicks).tickSize(-5).tickSizeOuter(0).tickFormat(""))
  .call(styleAxis);
svg.append("g").attr("transform", `translate(${plot.left},0)`)
  .call(d3.axisLeft(y).tickValues(yTicks).tickSize(-10).tickSizeOuter(0).tickPadding(3).tickFormat(d => String(d)))
  .call(styleAxis)
  .call(g => g.selectAll("text").attr("font-size", tickFont).attr("fill", "#000")
    .attr("font-family", "DejaVu Sans, sans-serif"));
svg.append("g").attr("transform", `translate(${plot.right},0)`)
  .call(d3.axisRight(y).tickValues(yTicks).tickSize(-10).tickSizeOuter(0).tickFormat(""))
  .call(styleAxis);

// x tick labels 10^k
const xl = svg.append("g").selectAll("text").data(xTicks).join("text")
  .attr("x", d => x(d)).attr("y", 468.5)
  .attr("text-anchor", "middle").attr("font-size", tickFont).attr("fill", "#000");
xl.append("tspan").text("10");
xl.append("tspan").attr("dy", -9).attr("font-size", 13).text((d, i) => xTickExp[i]);

// axis titles
svg.append("text").attr("x", 565.3).attr("y", 499.5).attr("text-anchor", "middle")
  .attr("font-size", labelFont).attr("fill", "#000").text("Packet strength");
svg.append("text").attr("transform", "translate(26,223.5) rotate(-90)").attr("text-anchor", "middle")
  .attr("font-size", labelFont).attr("fill", "#000").text("TDOA residual [ns]");

// markers
const star = "M-5.5,0H5.5M0,-5.5V5.5M-3.9,-3.9L3.9,3.9M-3.9,3.9L3.9,-3.9";
const marks = svg.append("g");
marks.append("g").selectAll("path").data(c0).join("path")
  .attr("transform", d => `translate(${x(d[0])},${y(d[1])})`)
  .attr("d", star).attr("stroke", "#000").attr("stroke-width", 1.8).attr("fill", "none");
marks.append("g").selectAll("rect").data(c1).join("rect")
  .attr("x", d => x(d[0]) - 4.6).attr("y", d => y(d[1]) - 4.6)
  .attr("width", 9.2).attr("height", 9.2)
  .attr("fill", "none").attr("stroke", "#0000ff").attr("stroke-width", 1.6);
marks.append("g").selectAll("circle").data(c2).join("circle")
  .attr("cx", d => x(d[0])).attr("cy", d => y(d[1])).attr("r", 5)
  .attr("fill", "none").attr("stroke", "#ff0000").attr("stroke-width", 1.6);

// legend
const lg = svg.append("g");
lg.append("rect").attr("x", 469).attr("y", 11.7).attr("width", 192).attr("height", 98.6)
  .attr("fill", "#fff").attr("stroke", "#a0a0a0").attr("stroke-width", 1);
const rowY = [30, 62, 95];
lg.append("path").attr("transform", `translate(484.3,${rowY[0]})`).attr("d", star)
  .attr("stroke", "#000").attr("stroke-width", 1.6).attr("fill", "none");
lg.append("rect").attr("x", 484.3 - 4).attr("y", rowY[1] - 4).attr("width", 8).attr("height", 8)
  .attr("fill", "none").attr("stroke", "#0000ff").attr("stroke-width", 1.5);
lg.append("circle").attr("cx", 484.3).attr("cy", rowY[2]).attr("r", 4.5)
  .attr("fill", "none").attr("stroke", "#ff0000").attr("stroke-width", 1.5);
lg.selectAll("text").data(legendLabels).join("text")
  .attr("x", 499).attr("y", (d, i) => rowY[i]).attr("dy", "0.35em")
  .attr("font-size", labelFont).attr("fill", "#000").text(d => d);
</script>
</body>
</html>
